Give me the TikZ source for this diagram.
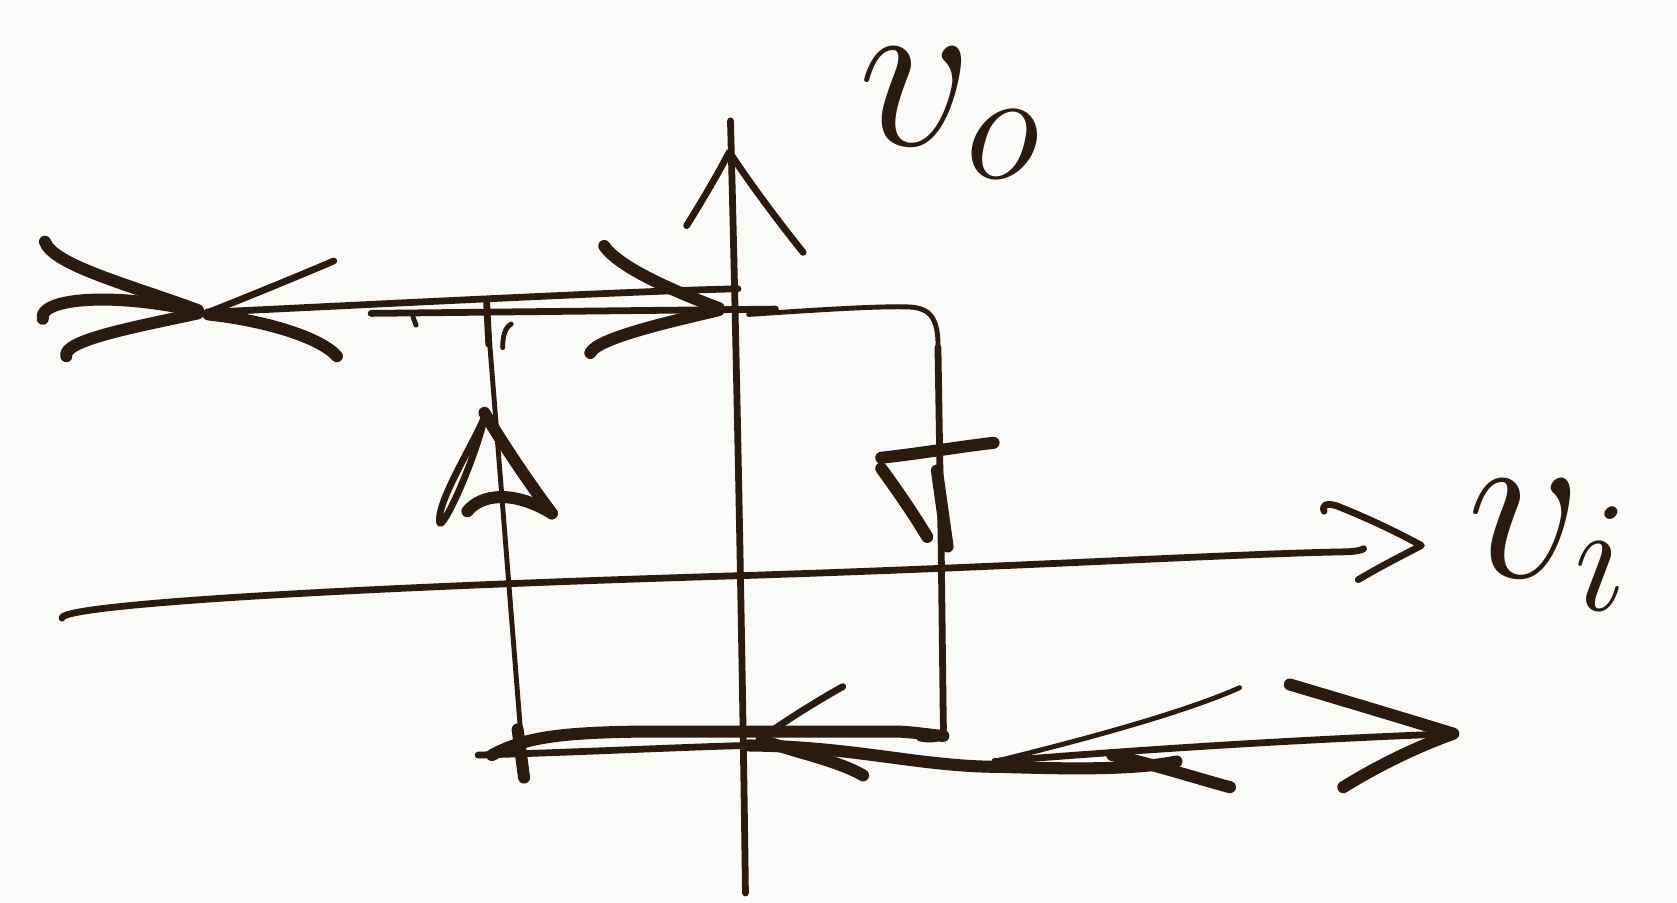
\documentclass[tikz,border=0pt]{standalone}
\usepackage{fix-cm}
\definecolor{ink}{RGB}{43,26,14}
\definecolor{paper}{RGB}{250,250,248}
\tikzset{
  inkthin/.style={draw=ink, line width=1.3pt, line cap=round, line join=round},
  inkmid/.style={draw=ink, line width=1.8pt, line cap=round, line join=round},
  inkbold/.style={draw=ink, line width=3.2pt, line cap=round, line join=round},
  lab/.style={text=ink, font=\fontsize{60}{62}\selectfont, inner sep=4pt}
}
\begin{document}
\begin{tikzpicture}[x=0.01cm, y=-0.01cm]
\fill[paper] (0,0) rectangle (1568,844);
\useasboundingbox (0,0) rectangle (1568,844);

% vertical axis (v_o)
\coordinate (vtop) at (683,113);
\coordinate (vbot) at (697,835);
\draw[inkmid] (vbot) .. controls (694,600) and (688,300) .. (vtop);
\draw[inkmid] (642,211) .. controls (655,190) and (670,165) .. (682,142) .. controls (700,170) and (730,210) .. (751,236);

% horizontal axis (v_i)
\coordinate (hleft) at (58,578);
\coordinate (hright) at (1275,513);
\draw[inkmid] (hleft) .. controls (55,566) and (300,550) .. (700,538) .. controls (950,530) and (1150,518) .. (1255,516) .. controls (1268,516) and (1274,514) .. (hright);
\draw[inkmid] (1238,478) .. controls (1236,472) and (1240,470) .. (1250,473) .. controls (1280,485) and (1305,497) .. (1329,510) .. controls (1310,520) and (1290,530) .. (1270,542);

% labels
\node[lab] (vo) at (888,106) {$v_o$};
\node[lab] (vi) at (1448,510) {$v_i$};

% ---------- top ----------
% left ">" with middle hook
\draw[inkbold] (42,226) .. controls (50,248) and (120,266) .. (185,290);
\draw[inkbold] (62,333) .. controls (58,318) and (130,305) .. (185,293);
\draw[inkbold] (40,298) .. controls (36,280) and (100,272) .. (185,291);
% "<"
\draw[inkmid] (312,244) .. controls (270,262) and (225,280) .. (195,292);
\draw[inkbold] (195,294) .. controls (250,300) and (300,316) .. (315,333);
% upper long line
\draw[inkmid] (195,292) .. controls (400,282) and (600,272) .. (690,270);
% loop top line
\draw[inkmid] (347,293) -- (725,289);
\draw[inkthin] (386,296) -- (389,304);
% ">" arrow on the top line
\draw[inkbold] (565,230) .. controls (580,252) and (640,276) .. (672,288);
\draw[inkbold] (552,330) .. controls (558,316) and (630,300) .. (672,290);
% top right of loop and right side
\draw[inkthin] (700,294) .. controls (760,290) and (820,286) .. (850,287) .. controls (872,288) and (878,300) .. (877,330);
\draw[inkmid] (877,325) -- (880,510) -- (882,676) .. controls (884,690) and (876,693) .. (860,690);
% right down arrowhead
\draw[inkbold] (824,428) .. controls (860,424) and (895,418) .. (929,414);
\draw[inkbold] (824,438) .. controls (840,460) and (855,482) .. (867,502);
\draw[inkbold] (876,440) -- (886,511);

% left side of loop
\draw[inkthin] (455,285) -- (490,725);
\draw[inkmid] (455,283) -- (457,322);
\draw[inkthin] (478,303) .. controls (472,306) and (470,315) .. (470,325);
% left up arrowhead
\draw[inkbold] (453,386) .. controls (470,415) and (495,452) .. (516,480);
\draw[inkmid] (453,390) .. controls (440,420) and (408,470) .. (411,489) .. controls (414,495) and (440,440) .. (452,395);
\draw[inkbold] (437,478) .. controls (450,462) and (480,458) .. (516,480);

% ---------- bottom ----------
\draw[inkmid] (447,706) .. controls (550,703) and (650,698) .. (700,697);
\draw[inkbold] (460,706) .. controls (490,690) and (520,685) .. (600,684) -- (840,684) .. controls (860,685) and (875,688) .. (882,688);
\draw[inkbold] (484,682) -- (490,727);
% "<" at the axis
\draw[inkmid] (712,690) .. controls (740,670) and (770,652) .. (788,642);
\draw[inkbold] (712,692) .. controls (750,705) and (785,712) .. (807,725);
% wavy return line
\draw[inkbold] (700,697) .. controls (800,698) and (860,717) .. (935,717) .. controls (1000,719) and (1060,720) .. (1100,712);
\draw[inkthin] (930,712) .. controls (1020,690) and (1110,665) .. (1159,643);
\draw[inkbold] (1040,706) .. controls (1080,715) and (1120,728) .. (1150,736);
% output line with ">"
\draw[inkmid] (930,712) .. controls (1100,698) and (1250,690) .. (1359,686);
\draw[inkbold] (1206,640) .. controls (1260,656) and (1320,674) .. (1359,686) .. controls (1320,700) and (1285,718) .. (1256,736);
\end{tikzpicture}
\end{document}
